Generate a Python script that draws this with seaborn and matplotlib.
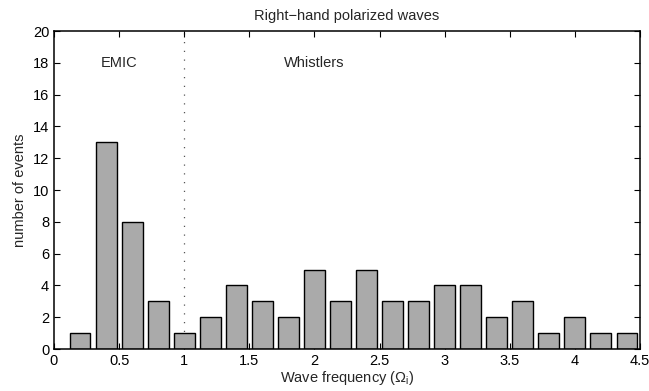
import matplotlib
matplotlib.use("Agg")
import matplotlib.pyplot as plt
import seaborn as sns

# Wave frequency bin centres (in units of the ion gyrofrequency) and event counts
freq = [0.2, 0.4, 0.6, 0.8, 1.0, 1.2, 1.4, 1.6, 1.8, 2.0, 2.2,
        2.4, 2.6, 2.8, 3.0, 3.2, 3.4, 3.6, 3.8, 4.0, 4.2, 4.4]
counts = [1, 13, 8, 3, 1, 2, 4, 3, 2, 5, 3,
          5, 3, 3, 4, 4, 2, 3, 1, 2, 1, 1]

x_ticks = [0, 0.5, 1, 1.5, 2, 2.5, 3, 3.5, 4, 4.5]
x_tick_labels = ["0", "0.5", "1", "1.5", "2", "2.5", "3", "3.5", "4", "4.5"]
y_ticks = list(range(0, 21, 2))

sns.set_style("ticks")
plt.rcParams["font.family"] = ["Liberation Sans", "DejaVu Sans"]
plt.rcParams["mathtext.fontset"] = "custom"
plt.rcParams["mathtext.rm"] = "Liberation Sans"
plt.rcParams["mathtext.it"] = "Liberation Sans"

fig = plt.figure(figsize=(6.49, 3.91), dpi=100)
ax = fig.add_axes([0.0832, 0.1074, 0.9029, 0.8133])

sns.barplot(x=freq, y=counts, native_scale=True, color="#aaaaaa",
            saturation=1, edgecolor="black", linewidth=1.0, width=0.8, ax=ax)

ax.set_xlim(0, 4.5)
ax.set_ylim(0, 20)
ax.set_xticks(x_ticks)
ax.set_xticklabels(x_tick_labels)
ax.set_yticks(y_ticks)
ax.tick_params(direction="in", top=True, right=True, length=4,
               width=0.8, labelsize=10.5, colors="black")

for s in ax.spines.values():
    s.set_visible(True)
    s.set_linewidth(1.1)
    s.set_color("black")

# boundary between EMIC and whistler-mode frequencies
ax.axvline(1.0, color="#555555", linestyle=(0, (1, 6)), linewidth=0.9, zorder=0)

ax.text(0.5, 18, "EMIC", ha="center", va="center", fontsize=10.5)
ax.text(2.0, 18, "Whistlers", ha="center", va="center", fontsize=10.5)

ax.set_title("Right\u2212hand polarized waves", fontsize=10.5, pad=8)
ax.set_xlabel(r"Wave frequency ($\Omega_{\rm i}$)", fontsize=10.5, labelpad=1)
ax.set_ylabel("number of events", fontsize=10.5, labelpad=4)

fig.savefig("out.png", dpi=100)
